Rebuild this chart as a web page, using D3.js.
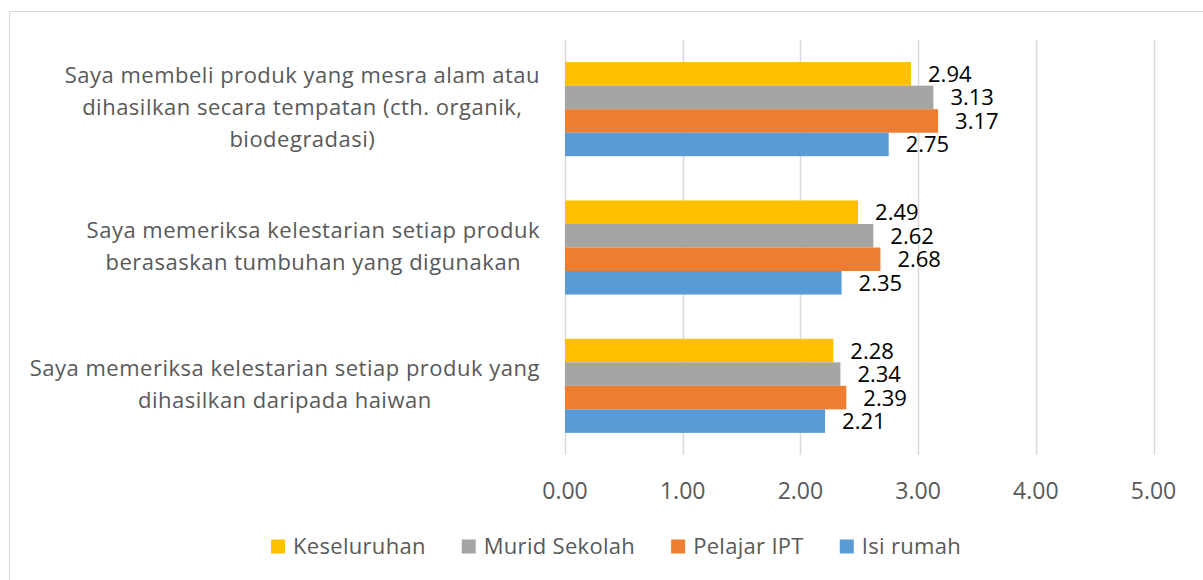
<!DOCTYPE html>
<html>
<head>
<meta charset="utf-8">
<script src="https://cdn.jsdelivr.net/npm/d3@7"></script>
<style>
  html, body { margin: 0; padding: 0; background: #fff; }
  svg { display: block; font-family: "Open Sans", sans-serif; }
</style>
</head>
<body>
<div id="chart"></div>
<script>
const width = 1203;
const height = 580;

// categories, top to bottom (each label already wrapped like the original)
const categories = [
    "Saya membeli produk yang mesra alam atau\ndihasilkan secara tempatan (cth. organik,\nbiodegradasi)",
    "Saya memeriksa kelestarian setiap produk\nberasaskan tumbuhan yang digunakan",
    "Saya memeriksa kelestarian setiap produk yang\ndihasilkan daripada haiwan"
];
const seriesNames = ["Keseluruhan", "Murid Sekolah", "Pelajar IPT", "Isi rumah"];
const seriesColors = ["#FFC000", "#A5A5A5", "#ED7D31", "#5B9BD5"];

// values per series, same order as categories
const keseluruhan = [2.94, 2.49, 2.28];
const muridSekolah = [3.13, 2.62, 2.34];
const pelajarIPT = [3.17, 2.68, 2.39];
const isiRumah = [2.75, 2.35, 2.21];
const xTicks = [0, 1, 2, 3, 4, 5];

const seriesValues = [keseluruhan, muridSekolah, pelajarIPT, isiRumah];

const plot = { left: 565, right: 1153.5, top: 40, bottom: 455 };

const svg = d3.select("#chart")
    .append("svg")
    .attr("width", width)
    .attr("height", height);

// chart area border (cropped on the right/bottom in the original)
svg.append("rect")
    .attr("x", 9.5).attr("y", 11.5)
    .attr("width", width).attr("height", height)
    .attr("fill", "none")
    .attr("stroke", "#d9d9d9");

const x = d3.scaleLinear().domain([0, 5]).range([plot.left, plot.right]);
const y0 = d3.scaleBand()
    .domain(d3.range(categories.length))
    .range([plot.top, plot.bottom])
    .paddingInner(0.32)
    .paddingOuter(0.16);
const y1 = d3.scaleBand()
    .domain(d3.range(seriesNames.length))
    .range([0, y0.bandwidth()]);

// vertical gridlines
svg.append("g")
    .selectAll("line")
    .data(xTicks)
    .join("line")
    .attr("x1", d => Math.round(x(d)) + 0.5)
    .attr("x2", d => Math.round(x(d)) + 0.5)
    .attr("y1", plot.top)
    .attr("y2", plot.bottom)
    .attr("stroke", "#d9d9d9")
    .attr("stroke-width", 1.5);

// tick labels
svg.append("g")
    .selectAll("text")
    .data(xTicks)
    .join("text")
    .attr("x", d => x(d))
    .attr("y", 499)
    .attr("text-anchor", "middle")
    .attr("font-size", 23)
    .attr("fill", "#595959")
    .text(d => d3.format(".2f")(d));

// bars
const groups = svg.append("g")
    .selectAll("g")
    .data(categories)
    .join("g")
    .attr("transform", (d, i) => `translate(0,${y0(i)})`);

groups.selectAll("rect")
    .data((d, i) => seriesValues.map((vals, s) => ({ s, v: vals[i] })))
    .join("rect")
    .attr("x", x(0))
    .attr("y", d => y1(d.s))
    .attr("width", d => x(d.v) - x(0))
    .attr("height", y1.bandwidth())
    .attr("fill", d => seriesColors[d.s]);

groups.selectAll("text")
    .data((d, i) => seriesValues.map((vals, s) => ({ s, v: vals[i] })))
    .join("text")
    .attr("x", d => x(d.v) + 17)
    .attr("y", d => y1(d.s) + y1.bandwidth() / 2 + 8)
    .attr("font-size", 22)
    .attr("fill", "#000")
    .text(d => d3.format(".2f")(d.v));

// category labels: block right-aligned to the axis, lines centred in the block
const catLabels = svg.append("g");
categories.forEach((label, i) => {
    const lines = label.split("\n");
    const cy = y0(i) + y0.bandwidth() / 2;
    const t = catLabels.append("g");
    const texts = t.selectAll("text")
        .data(lines)
        .join("text")
        .attr("y", (d, j) => cy + (j - (lines.length - 1) / 2) * 32 + 6)
        .attr("text-anchor", "middle")
        .attr("font-size", 22)
        .attr("letter-spacing", 0.5)
        .attr("fill", "#595959")
        .text(d => d);
    let maxW = 0;
    texts.each(function() { maxW = Math.max(maxW, this.getComputedTextLength()); });
    texts.attr("x", 540 - maxW / 2);
});

// legend
const legend = svg.append("g");
const items = legend.selectAll("g")
    .data(seriesNames)
    .join("g");
items.append("rect")
    .attr("width", 14).attr("height", 14)
    .attr("y", 539.5)
    .attr("fill", (d, i) => seriesColors[i]);
items.append("text")
    .attr("x", 22)
    .attr("y", 554)
    .attr("font-size", 22)
    .attr("letter-spacing", 0.3)
    .attr("fill", "#595959")
    .text(d => d);
let pos = 0;
const offsets = [];
items.each(function() {
    offsets.push(pos);
    const w = d3.select(this).select("text").node().getComputedTextLength();
    pos += 22 + w + 36;
});
const total = pos - 36;
const start = 616 - total / 2;
items.attr("transform", (d, i) => `translate(${start + offsets[i]},0)`);
</script>
</body>
</html>
